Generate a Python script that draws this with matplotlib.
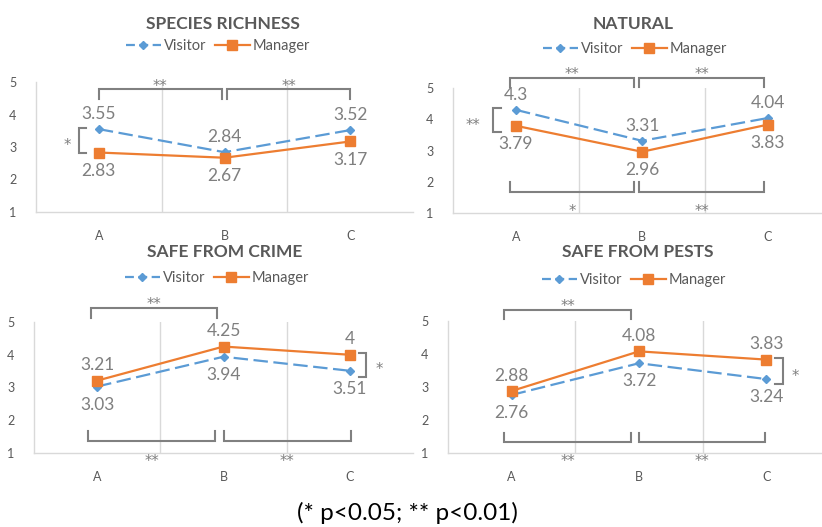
import matplotlib
matplotlib.use("Agg")
import matplotlib.pyplot as plt
from matplotlib.lines import Line2D

plt.rcParams['font.family'] = ['Lato', 'DejaVu Sans']

categories = ['A', 'B', 'C']
titles = ['SPECIES RICHNESS', 'NATURAL', 'SAFE FROM CRIME', 'SAFE FROM PESTS']
series_names = ['Visitor', 'Manager']

visitor_species = [3.55, 2.84, 3.52]
manager_species = [2.83, 2.67, 3.17]
visitor_natural = [4.3, 3.31, 4.04]
manager_natural = [3.79, 2.96, 3.83]
visitor_crime = [3.03, 3.94, 3.51]
manager_crime = [3.21, 4.25, 4.0]
visitor_pests = [2.76, 3.72, 3.24]
manager_pests = [2.88, 4.08, 3.83]
y_ticks = [1, 2, 3, 4, 5]

visitors = [visitor_species, visitor_natural, visitor_crime, visitor_pests]
managers = [manager_species, manager_natural, manager_crime, manager_pests]
visitor_above = [True, True, False, False]

# significance brackets: horizontal (x0, x1, y, tip, text, text_y); side (x, tip_x, y0, y1, text, tx, ty)
h_brackets = [
    [(0.0, 0.98, 4.78, 4.48, '**', 5.0), (1.02, 2.0, 4.78, 4.48, '**', 5.0)],
    [(-0.05, 0.94, 5.32, 5.03, '**', 5.6), (0.98, 1.97, 5.32, 5.03, '**', 5.6),
     (-0.05, 0.94, 1.67, 1.99, '*', 1.2), (0.98, 1.97, 1.67, 1.99, '**', 1.2)],
    [(-0.05, 0.95, 5.43, 5.12, '**', 5.67),
     (-0.07, 0.93, 1.37, 1.67, '**', 0.88), (1.0, 2.01, 1.37, 1.67, '**', 0.88)],
    [(-0.06, 0.94, 5.33, 5.06, '**', 5.58),
     (-0.06, 0.94, 1.33, 1.61, '**', 0.88), (1.0, 1.99, 1.33, 1.61, '**', 0.88)],
]
side_brackets = [
    (-0.16, -0.10, 2.82, 3.58, '*', -0.25, 3.2),
    (-0.18, -0.12, 3.6, 4.36, '**', -0.34, 3.95),
    (2.13, 2.07, 3.32, 4.05, '*', 2.23, 3.69),
    (2.13, 2.07, 3.09, 3.88, '*', 2.23, 3.48),
]

W, H = 822, 527
fig = plt.figure(figsize=(W / 100, H / 100), dpi=100)

def fx(px):
    return px / W

def fy(py):
    return 1 - py / H

# axes boxes in pixels: left, right, top, bottom
boxes = [(36, 413, 82, 212), (453, 831, 88, 213), (34, 413, 322, 453), (448, 830, 321, 453)]
title_pos = [(223, 24), (633, 24), (225, 252), (638, 252)]
legend_pos = [(218, 46), (635, 49), (217, 278), (634, 280)]

BLUE = '#5B9BD5'
ORANGE = '#ED7D31'
GRID = '#D9D9D9'
TXT = '#595959'
LBL = '#7F7F7F'
BR = '#808080'

def star(ax, x, y, txt):
    ax.annotate(txt, (x, y), xytext=(0, -3.5), textcoords='offset points',
                ha='center', va='center', fontsize=10.5, color=LBL,
                family=['DejaVu Sans'], annotation_clip=False)

for i in range(4):
    l, r, t, b = boxes[i]
    ax = fig.add_axes([fx(l), fy(b), fx(r) - fx(l), fy(t) - fy(b)])
    x = list(range(len(categories)))
    ax.plot(x, visitors[i], color=BLUE, lw=1.6, dashes=(6.5, 2.5), marker='D',
            markersize=4.5, zorder=3)
    ax.plot(x, managers[i], color=ORANGE, lw=1.6, marker='s', markersize=6.8, zorder=3)
    for xi, (v, m) in enumerate(zip(visitors[i], managers[i])):
        if visitor_above[i]:
            ov, om = 11, -13
        else:
            ov, om = -13, 11
        ax.annotate(f'{v:g}', (xi, v), xytext=(0, ov), textcoords='offset points',
                    ha='center', va='center', fontsize=12.5, color=LBL)
        ax.annotate(f'{m:g}', (xi, m), xytext=(0, om), textcoords='offset points',
                    ha='center', va='center', fontsize=12.5, color=LBL)
    ax.set_xlim(-0.5, 2.5)
    ax.set_ylim(1, 5)
    ax.set_yticks(y_ticks)
    ax.set_xticks(x)
    ax.set_xticklabels(categories)
    for xv in [0.5, 1.5]:
        ax.axvline(xv, color=GRID, lw=1, zorder=0)
    for s in ['top', 'right']:
        ax.spines[s].set_visible(False)
    ax.spines['left'].set_color(GRID)
    ax.spines['bottom'].set_color(GRID)
    ax.spines['left'].set_linewidth(1)
    ax.spines['bottom'].set_linewidth(1)
    ax.tick_params(length=0, labelsize=9, colors=TXT)
    ax.tick_params(axis='y', pad=14)
    ax.tick_params(axis='x', pad=13)

    for (x0, x1, y, tip, txt, ty) in h_brackets[i]:
        ax.plot([x0, x0, x1, x1], [tip, y, y, tip], color=BR, lw=1.5, clip_on=False,
                solid_joinstyle='miter')
        star(ax, (x0 + x1) / 2, ty, txt)
    sx, stip, y0, y1, txt, tx, ty = side_brackets[i]
    ax.plot([stip, sx, sx, stip], [y0, y0, y1, y1], color=BR, lw=1.5, clip_on=False,
            solid_joinstyle='miter')
    star(ax, tx, ty, txt)

    tx_, ty_ = title_pos[i]
    fig.text(fx(tx_), fy(ty_), titles[i], ha='center', va='center', fontsize=12.5,
             fontweight='bold', color=TXT)
    handles = [Line2D([], [], color=BLUE, lw=1.6, dashes=(4, 2), marker='D', markersize=4.5),
               Line2D([], [], color=ORANGE, lw=1.6, marker='s', markersize=6.8)]
    lx, ly = legend_pos[i]
    fig.legend(handles, series_names, loc='center', bbox_to_anchor=(fx(lx), fy(ly)),
               ncol=2, frameon=False, fontsize=10.5, labelcolor=TXT, handlelength=2.4,
               handletextpad=0.2, columnspacing=0.6, borderpad=0, numpoints=1)

fig.text(fx(407), fy(513), '(* p<0.05; ** p<0.01)', ha='center', va='center',
         fontsize=17.5, color='black')

fig.savefig('out.png', dpi=100)
